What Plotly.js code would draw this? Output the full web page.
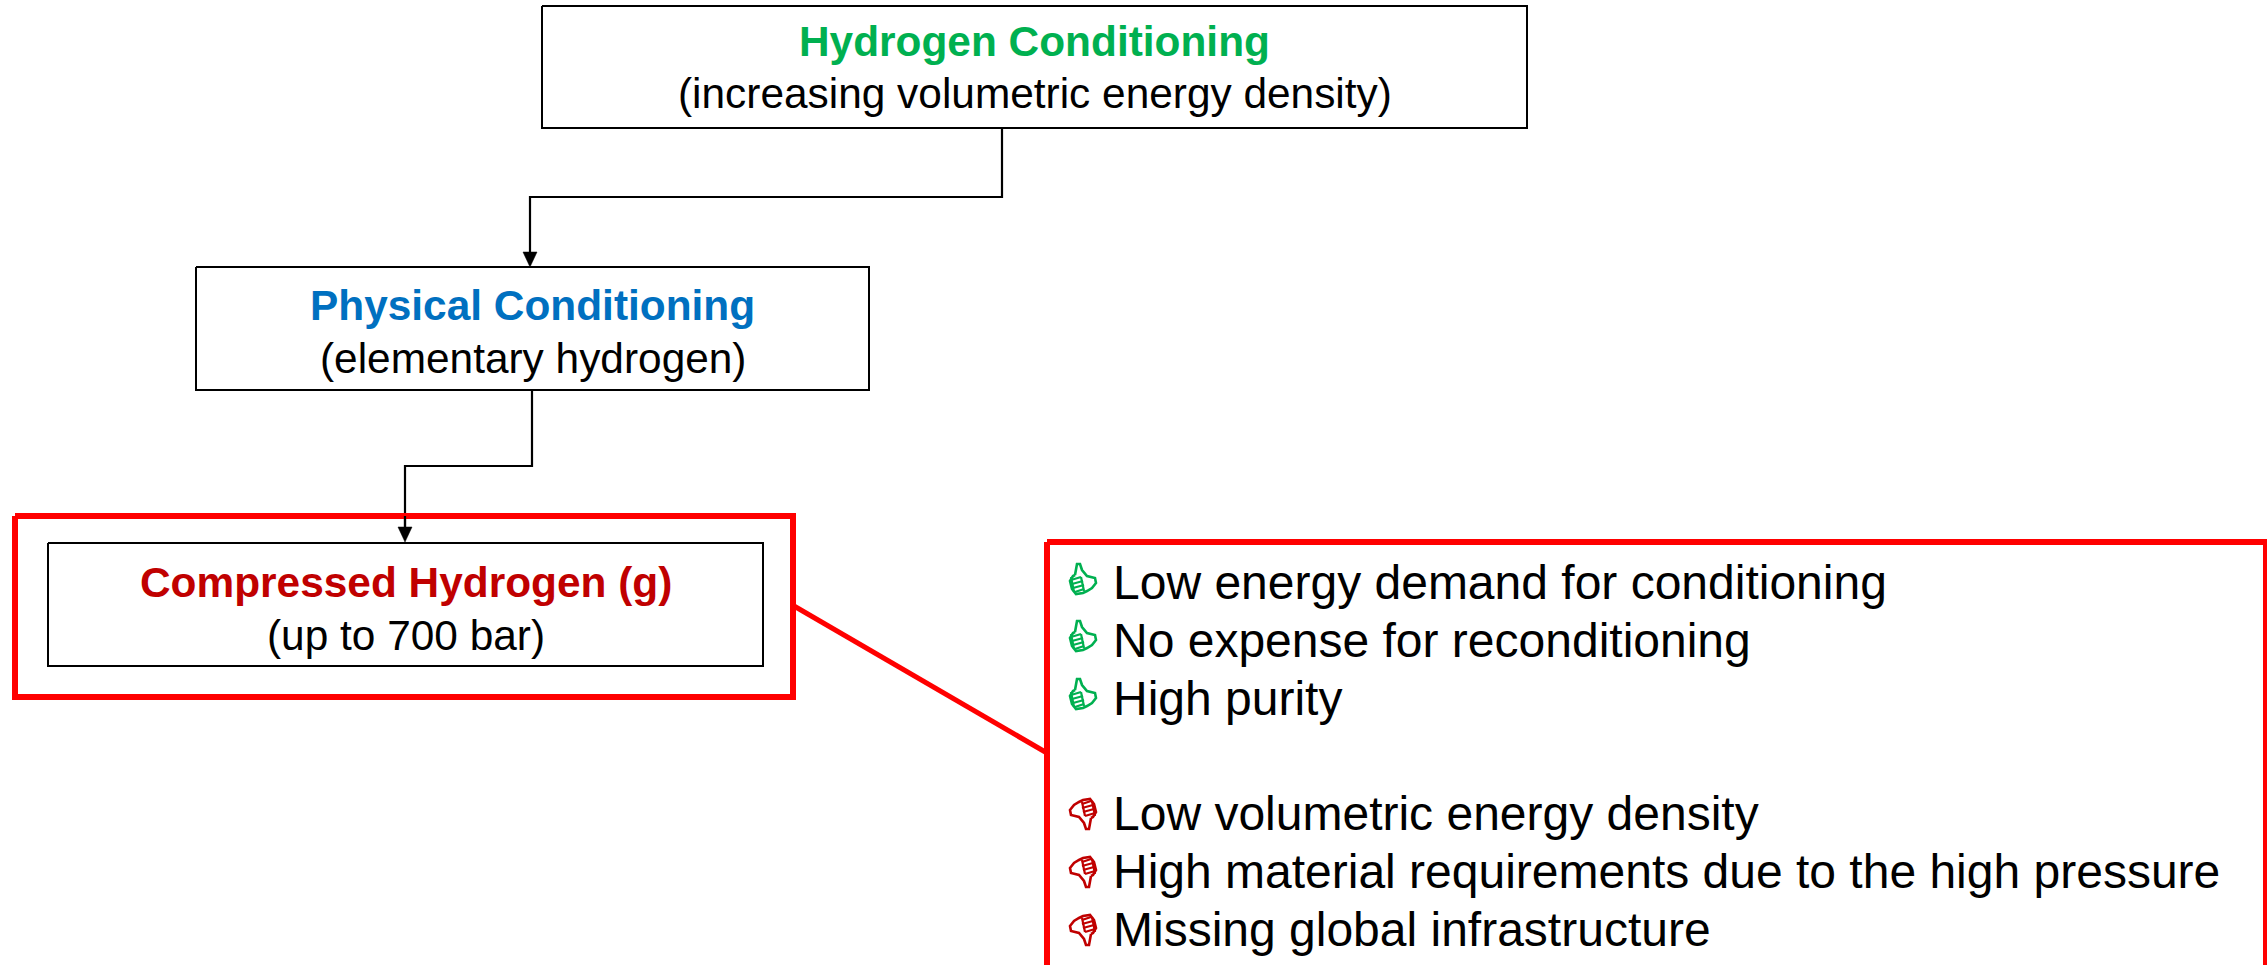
<!DOCTYPE html>
<html>
<head>
<meta charset="utf-8">
<script src="https://cdn.plot.ly/plotly-3.0.1.min.js"></script>
<style>html,body{margin:0;padding:0;background:#fff;overflow:hidden}#chart{width:2267px;height:965px}</style>
</head>
<body>
<div id="chart"></div>
<script>
// Diagram content
const boxTitles = ["Hydrogen Conditioning", "Physical Conditioning", "Compressed Hydrogen (g)"];
const boxSubtitles = ["(increasing volumetric energy density)", "(elementary hydrogen)", "(up to 700 bar)"];
const boxTitleColors = ["#00B050", "#0070C0", "#C00000"];
const prosList = ["Low energy demand for conditioning", "No expense for reconditioning", "High purity"];
const consList = ["Low volumetric energy density", "High material requirements due to the high pressure", "Missing global infrastructure"];

// Diagram geometry (pixels on a 2267x965 canvas)
const boxLeft = [542, 196, 48];
const boxRight = [1527, 869, 763];
const boxTop = [6, 267, 543];
const boxBottom = [128, 390, 666];
const titleBaseline = [56, 320, 597];
const subtitleBaseline = [108, 373, 650];
const connectorAX = [1002, 1002, 530, 530];
const connectorAY = [128, 197, 197, 258];
const connectorBX = [532, 532, 405, 405];
const connectorBY = [390, 466, 466, 533];
const arrowTipX = [530, 405];
const arrowTipY = [267, 542];
const highlightX = [15, 793, 793, 15, 15];
const highlightY = [516, 516, 697, 697, 516];
const calloutX = [1047, 2266, 2266, 1047, 1047];
const calloutY = [542, 542, 1000, 1000, 542];
const leaderX = [794, 1047];
const leaderY = [606, 753];
const prosBaseline = [599, 657, 715];
const consBaseline = [830, 888, 946];
const listLeft = 1113;
const iconLeft = 1070;
const prosIconTop = [563, 620, 678];
const consIconTop = [799, 857, 915];

// Thumb icon outline in a 26x31 cell
const thumbOutlineX = [5, 7, 10, 12, 17, 25, 26, 22, 17, 13, 6, 2, 0, 3, 5];
const thumbOutlineY = [12, 1, 1, 7, 13, 15, 20, 25, 28, 30, 31, 26, 18, 13, 12];
const thumbFingerX = [[1, 11], [2, 13], [3, 14], [5, 14], [1, 4], [11, 14]];
const thumbFingerY = [[17, 14], [21, 18], [25, 22], [29, 26], [14, 29], [14, 28]];

const GREEN = "#00B050", RED = "#FF0000", DARKRED = "#C00000", BLACK = "#000000";
const traces = [];

function line(x, y, color, width) {
  traces.push({type: "scatter", mode: "lines", x, y, hoverinfo: "skip", showlegend: false,
    line: {color, width, shape: "linear"}});
}

boxLeft.forEach((l, i) => {
  const r = boxRight[i], t = boxTop[i], b = boxBottom[i];
  line([l, r, r, l, l], [t, t, b, b, t], BLACK, 2);
});
line(connectorAX, connectorAY, BLACK, 2.2);
line(connectorBX, connectorBY, BLACK, 2.2);
line(highlightX, highlightY, RED, 6);
line(calloutX, calloutY, RED, 6);
line(leaderX, leaderY, RED, 5);
// the arrow of box 3 passes over the red frame
line([405, 405], [516, 533], BLACK, 2.2);

arrowTipX.forEach((x, i) => {
  const y = arrowTipY[i];
  traces.push({type: "scatter", mode: "lines", x: [x - 7, x + 7, x, x - 7], y: [y - 15, y - 15, y, y - 15],
    fill: "toself", fillcolor: BLACK, line: {color: BLACK, width: 0.5}, hoverinfo: "skip", showlegend: false});
});

function icon(left, top, color, flip) {
  const mx = v => flip ? left + 26 - v : left + v;
  const my = v => flip ? top + 31 - v : top + v;
  traces.push({type: "scatter", mode: "lines", x: thumbOutlineX.map(mx), y: thumbOutlineY.map(my),
    fill: "toself", fillcolor: "#ffffff", line: {color, width: 2.6}, hoverinfo: "skip", showlegend: false});
  thumbFingerX.forEach((fx, i) => line(fx.map(mx), thumbFingerY[i].map(my), color, 2.2));
}
prosIconTop.forEach(t => icon(iconLeft, t, GREEN, false));
consIconTop.forEach(t => icon(iconLeft, t, DARKRED, true));

const FONT = "'Liberation Sans', Arial, sans-serif";
const anns = [];
function label(text, x, baseline, size, color, anchor, bold) {
  anns.push({xref: "x", yref: "y", x, y: baseline - size * 0.35, text: bold ? "<b>" + text + "</b>" : text,
    showarrow: false, xanchor: anchor, yanchor: "middle", borderpad: 0, borderwidth: 0,
    font: {family: FONT, size, color}});
}
boxTitles.forEach((s, i) => {
  const cx = (boxLeft[i] + boxRight[i]) / 2;
  label(s, cx, titleBaseline[i], 42.4, boxTitleColors[i], "center", true);
  label(boxSubtitles[i], cx, subtitleBaseline[i], 42.4, BLACK, "center", false);
});
prosList.forEach((s, i) => label(s, listLeft, prosBaseline[i], 48, BLACK, "left", false));
consList.forEach((s, i) => label(s, listLeft, consBaseline[i], 48, BLACK, "left", false));

const layout = {
  width: 2267, height: 965,
  margin: {l: 0, r: 0, t: 0, b: 0, pad: 0},
  paper_bgcolor: "#ffffff", plot_bgcolor: "#ffffff",
  showlegend: false,
  xaxis: {range: [0, 2267], visible: false, fixedrange: true},
  yaxis: {range: [965, 0], visible: false, fixedrange: true},
  annotations: anns
};
Plotly.newPlot("chart", traces, layout, {displayModeBar: false, staticPlot: true});
</script>
</body>
</html>
